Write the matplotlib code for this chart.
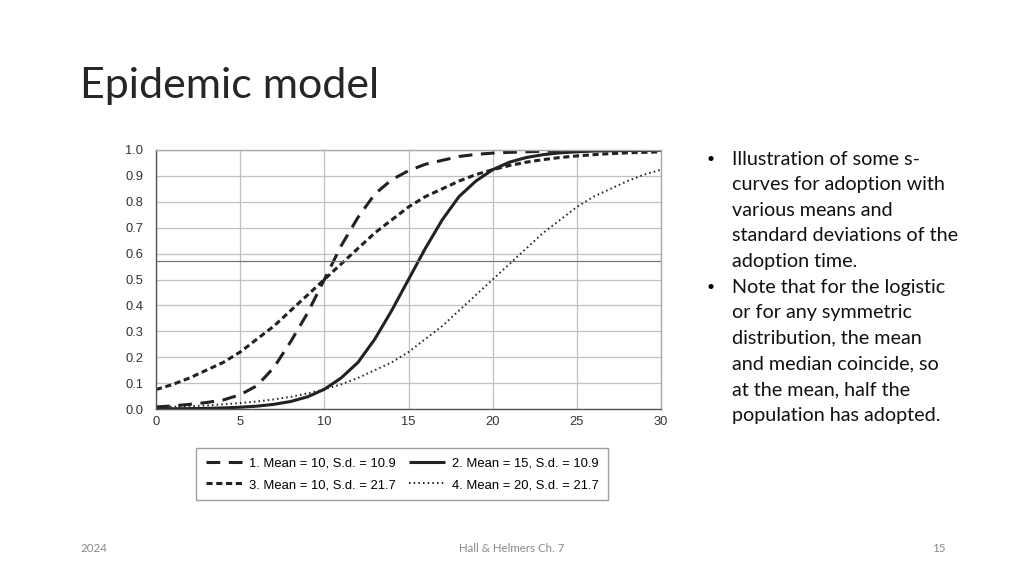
import matplotlib.pyplot as plt

# adoption curves, x = 0..30
years = list(range(31))
curve1 = [0.008, 0.012, 0.018, 0.025, 0.035, 0.055, 0.09, 0.16, 0.26, 0.37, 0.50,
          0.63, 0.74, 0.83, 0.885, 0.92, 0.945, 0.96, 0.975, 0.983, 0.988,
          0.991, 0.993, 0.995, 0.996, 0.997, 0.998, 0.998, 0.999, 0.999, 0.999]
curve2 = [0.001, 0.001, 0.0015, 0.0025, 0.004, 0.007, 0.011, 0.018, 0.029, 0.047, 0.076,
          0.12, 0.18, 0.27, 0.38, 0.50, 0.62, 0.73, 0.82, 0.88, 0.924,
          0.953, 0.971, 0.982, 0.989, 0.993, 0.996, 0.997, 0.998, 0.999, 0.999]
curve3 = [0.075, 0.095, 0.12, 0.15, 0.18, 0.22, 0.27, 0.32, 0.38, 0.44, 0.50,
          0.56, 0.62, 0.68, 0.73, 0.78, 0.82, 0.85, 0.88, 0.905, 0.924,
          0.94, 0.953, 0.963, 0.971, 0.977, 0.982, 0.986, 0.989, 0.991, 0.993]
curve4 = [0.007, 0.009, 0.011, 0.014, 0.018, 0.023, 0.029, 0.037, 0.047, 0.06, 0.076,
          0.095, 0.12, 0.15, 0.18, 0.22, 0.27, 0.32, 0.38, 0.44, 0.50,
          0.56, 0.62, 0.68, 0.73, 0.78, 0.82, 0.85, 0.88, 0.905, 0.924]
labels = ['1. Mean = 10, S.d. = 10.9', '2. Mean = 15, S.d. = 10.9',
          '3. Mean = 10, S.d. = 21.7', '4. Mean = 20, S.d. = 21.7']
stray_line = 0.572

bullets = [
    ['Illustration of some s-', 'curves for adoption with', 'various means and',
     'standard deviations of the', 'adoption time.'],
    ['Note that for the logistic', 'or for any symmetric', 'distribution, the mean',
     'and median coincide, so', 'at the mean, half the', 'population has adopted.'],
]


def main():
    fig = plt.figure(figsize=(10.24, 5.76), dpi=100)
    ax = fig.add_axes([156 / 1024, 1 - 409 / 576, 505 / 1024, 259 / 576])
    ink = '#222222'

    l1, = ax.plot(years, curve1, color=ink, lw=2.2, dashes=(4.5, 2.8))
    l2, = ax.plot(years, curve2, color=ink, lw=2.2, solid_capstyle='butt')
    l3, = ax.plot(years, curve3, color=ink, lw=2.2, dashes=(2, 1.2))
    l4, = ax.plot(years, curve4, color=ink, lw=1.4, dashes=(0.8, 1.6))
    ax.axhline(stray_line, color='#777777', lw=0.9)

    ax.set_xlim(0, 30)
    ax.set_ylim(0, 1)
    ax.set_xticks(range(0, 31, 5))
    ax.set_yticks([i / 10 for i in range(11)])
    ax.set_yticklabels(['%.1f' % (i / 10) for i in range(11)])
    ax.grid(True, color='#c0c0c0', lw=0.9)
    ax.tick_params(length=0, labelsize=9.3, colors='#333333')
    ax.tick_params(axis='y', pad=9)
    ax.tick_params(axis='x', pad=5)
    for lab in ax.get_xticklabels() + ax.get_yticklabels():
        lab.set_family('Liberation Sans')
    for name, sp in ax.spines.items():
        sp.set_color('#555555' if name in ('left', 'bottom') else '#aaaaaa')
        sp.set_linewidth(1.0)

    leg = fig.legend([l1, l3, l2, l4], [labels[0], labels[2], labels[1], labels[3]],
                     ncol=2, loc='center', bbox_to_anchor=(402 / 1024, 1 - 474 / 576),
                     fancybox=False, edgecolor='#888888',
                     prop={'family': 'Liberation Sans', 'size': 9.4},
                     handlelength=2.8, columnspacing=1.0, handletextpad=0.5,
                     borderpad=0.7, labelspacing=0.75)
    leg.get_frame().set_linewidth(1.0)

    fig.text(80 / 1024, 1 - 86 / 576, 'Epidemic model', fontsize=31, family='Lato',
             va='center', color='#262626')

    y = 159
    for item in bullets:
        fig.text(706 / 1024, 1 - y / 576, '•', fontsize=10, family='Lato', va='center')
        for line in item:
            fig.text(732 / 1024, 1 - y / 576, line, fontsize=14.2, family='Lato',
                     va='center', color='#111111')
            y += 25.6

    foot = dict(fontsize=8.3, family='Lato', color='#888888', va='center')
    fig.text(80 / 1024, 1 - 549 / 576, '2024', ha='left', **foot)
    fig.text(512 / 1024, 1 - 549 / 576, 'Hall & Helmers Ch. 7', ha='center', **foot)
    fig.text(946 / 1024, 1 - 549 / 576, '15', ha='right', **foot)

    fig.savefig('out.png', dpi=100)


if __name__ == "__main__":
    main()
